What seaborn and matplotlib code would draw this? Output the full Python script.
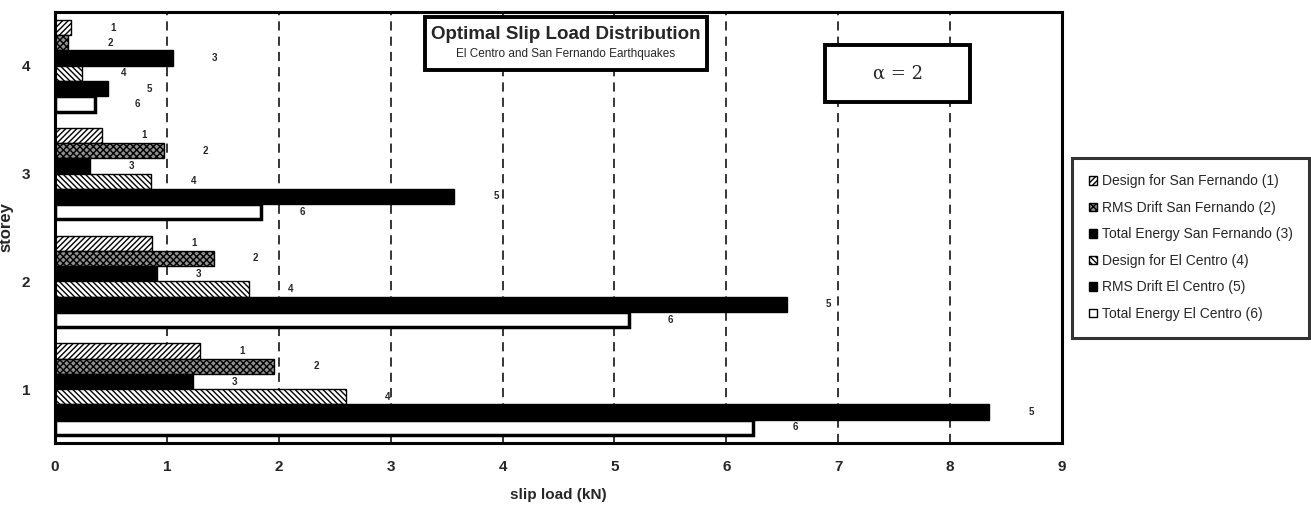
import seaborn as sns
import pandas as pd
import matplotlib.pyplot as plt
from matplotlib.patches import Patch, Rectangle

# storeys top to bottom, values in kN for each design
storeys = ['4', '3', '2', '1']
design_sf = [0.14, 0.42, 0.87, 1.30]
rms_sf = [0.12, 0.97, 1.42, 1.96]
energy_sf = [1.05, 0.31, 0.91, 1.23]
design_ec = [0.24, 0.86, 1.73, 2.60]
rms_ec = [0.47, 3.57, 6.54, 8.35]
energy_ec = [0.36, 1.84, 5.13, 6.24]
series_names = ['Design for San Fernando (1)', 'RMS Drift San Fernando (2)',
                'Total Energy San Fernando (3)', 'Design for El Centro (4)',
                'RMS Drift El Centro (5)', 'Total Energy El Centro (6)']
x_ticks = [0, 1, 2, 3, 4, 5, 6, 7, 8, 9]

sns.set_style('white')
plt.rcParams['font.family'] = ['Liberation Sans', 'DejaVu Sans']
plt.rcParams['hatch.linewidth'] = 1.0

# long table for seaborn
all_vals = [design_sf, rms_sf, energy_sf, design_ec, rms_ec, energy_ec]
rows = []
for name, vals in zip(series_names, all_vals):
    for s, v in zip(storeys, vals):
        rows.append({'storey': s, 'slip': v, 'series': name})
df = pd.DataFrame(rows)

fig = plt.figure(figsize=(13.11, 5.14), dpi=100)
ax = fig.add_axes([0.042, 0.138, 0.768, 0.839])

# gridlines first so bars sit on top
for x in x_ticks[1:-1]:
    ax.axvline(x, color='black', lw=1.1, ls=(0, (6, 4)), zorder=0)

sns.barplot(data=df, x='slip', y='storey', hue='series', order=storeys,
            hue_order=series_names, orient='h', width=0.85, legend=False, ax=ax,
            errorbar=None, zorder=2)

styles = [
    dict(facecolor='white', edgecolor='black', hatch='//////', lw=1.0),
    dict(facecolor='#909090', edgecolor='black', hatch='xxxxx', lw=1.0),
    dict(facecolor='black', edgecolor='black', hatch=None, lw=1.0),
    dict(facecolor='white', edgecolor='black', hatch='\\\\\\\\\\\\', lw=1.0),
    dict(facecolor='black', edgecolor='black', hatch=None, lw=1.0),
    dict(facecolor='white', edgecolor='black', hatch=None, lw=2.5),
]
for i, cont in enumerate(ax.containers):
    st = styles[i]
    for bar in cont:
        bar.set_facecolor(st['facecolor'])
        bar.set_edgecolor(st['edgecolor'])
        bar.set_hatch(st['hatch'])
        bar.set_linewidth(st['lw'])
        ax.text(bar.get_width() + 0.35, bar.get_y() + bar.get_height() / 2,
                str(i + 1), fontsize=7, fontweight='bold', va='center', ha='left')

ax.set_xlim(0, 9)
ax.set_ylim(3.5, -0.5)
ax.set_xticks(x_ticks)
ax.set_xticklabels([str(t) for t in x_ticks], fontsize=11, fontweight='bold')
ax.set_yticks(range(4))
ax.set_yticklabels(storeys, fontsize=11, fontweight='bold')
ax.set_yticks([0.5, 1.5, 2.5], minor=True)
ax.tick_params(axis='y', which='major', length=0, pad=18)
ax.tick_params(axis='y', which='minor', length=5, width=1.2, direction='inout')
ax.tick_params(axis='x', which='major', length=4, width=1.2, direction='inout', pad=10)
ax.set_xlabel('slip load (kN)', fontsize=11, fontweight='bold', labelpad=10)
ax.set_ylabel('storey', fontsize=12, fontweight='bold', labelpad=6)
for sp in ax.spines.values():
    sp.set_visible(True)
    sp.set_color('black')
    sp.set_linewidth(2.2)

# title box
ax.add_patch(Rectangle((0.367, 0.865), 0.281, 0.123, transform=ax.transAxes,
                       facecolor='white', edgecolor='black', lw=2.8, zorder=5))
ax.text(0.507, 0.947, 'Optimal Slip Load Distribution', transform=ax.transAxes,
        fontsize=13.5, fontweight='bold', ha='center', va='center', zorder=6)
ax.text(0.507, 0.902, 'El Centro and San Fernando Earthquakes', transform=ax.transAxes,
        fontsize=8.5, ha='center', va='center', zorder=6)

# alpha box
ax.add_patch(Rectangle((0.765, 0.791), 0.144, 0.132, transform=ax.transAxes,
                       facecolor='white', edgecolor='black', lw=2.8, zorder=5))
ax.text(0.837, 0.857, 'α = 2', transform=ax.transAxes, fontsize=13,
        ha='center', va='center', zorder=6, family='DejaVu Serif')

handles = [Patch(facecolor=st['facecolor'], edgecolor='black', hatch=st['hatch'],
                 lw=1.0) for st in styles]
leg = fig.legend(handles, series_names, loc='upper left', bbox_to_anchor=(0.818, 0.693),
                 fontsize=10, frameon=True, fancybox=False, handlelength=0.6,
                 handleheight=0.6, handletextpad=0.3, labelspacing=0.9,
                 borderpad=1.2, borderaxespad=0, edgecolor='black')
leg.get_frame().set_linewidth(2.2)

fig.savefig('out.png', dpi=100)
